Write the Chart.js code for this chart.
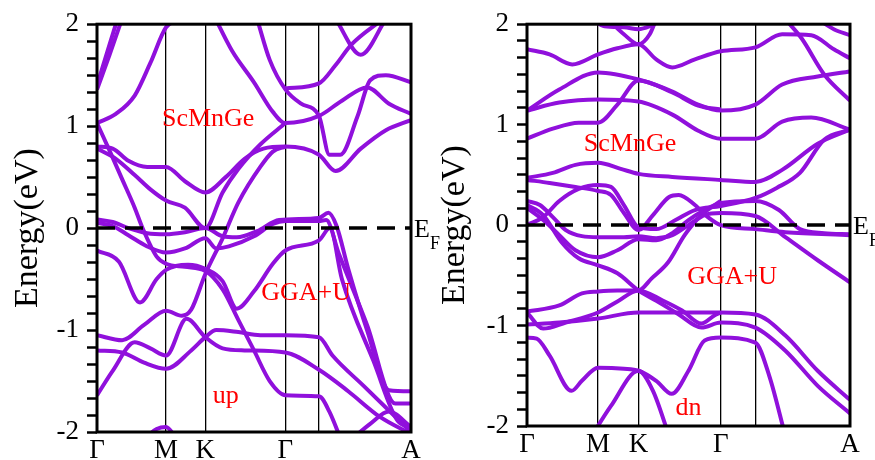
<!DOCTYPE html>
<html>
<head>
<meta charset="utf-8">
<title>ScMnGe GGA+U band structure</title>
<script src="https://cdn.jsdelivr.net/npm/chart.js@4.4.0/dist/chart.umd.min.js"></script>
<style>
    html, body { margin: 0; padding: 0; background: #fff; }
    #wrap { position: relative; width: 875px; height: 460px; overflow: hidden; }
    canvas { position: absolute; top: 0; }
    #grafikUp { left: 0; }
    #grafikDn { left: 435px; }
</style>
</head>
<body>
<div id="wrap">
    <canvas id="grafikUp" width="440" height="460"></canvas>
    <canvas id="grafikDn" width="440" height="460"></canvas>
</div>
<script>
// =================================================================
// DATA: k-path, ticks and bands (k along path 0..1, energy in eV)
// =================================================================
const kTicks  = [0, 0.22, 0.345, 0.6, 0.707, 1];
const kLabels = ['Γ', 'M', 'K', 'Γ', '', 'A'];
const yMajor  = [-2, -1, 0, 1, 2];
const yMinorPerUnit = 6;

// spin up
const upBands = [
    [[0,1.36],[0.04,1.7],[0.085,2.1]],
    [[0,1.4],[0.035,1.75],[0.07,2.1]],
    [[0,1.03],[0.06,1.12],[0.12,1.3],[0.17,1.62],[0.22,1.97],[0.27,2.05]],
    [[0.37,2.1],[0.43,1.74],[0.5,1.43],[0.56,1.14],[0.6,1.03],[0.707,1.1],[0.78,1.25],[0.86,1.38],[0.93,1.22],[1,1.12]],
    [[0.51,2.05],[0.55,1.65],[0.6,1.36],[0.65,1.22],[0.707,1.1],[0.74,0.72],[0.775,0.72],[0.83,1.1],[0.87,1.45],[0.92,1.5],[1,1.43]],
    [[0.6,1.37],[0.707,1.42],[0.76,1.6],[0.81,1.8],[0.91,2.05]],
    [[0.76,2.05],[0.84,1.7],[0.92,2.05]],
    [[0,0.8],[0.05,0.78],[0.1,0.66],[0.16,0.6],[0.22,0.6],[0.28,0.46],[0.345,0.35],[0.41,0.5],[0.47,0.68],[0.53,0.78],[0.6,0.8],[0.707,0.72],[0.76,0.56],[0.84,0.78],[0.92,0.96],[1,1.06]],
    [[0,0.78],[0.06,0.68],[0.12,0.52],[0.17,0.38],[0.22,0.27],[0.28,0.2],[0.345,0.0],[0.4,0.35],[0.45,0.58],[0.52,0.82],[0.6,1.03]],
    [[0,1.03],[0.04,0.76],[0.08,0.48],[0.12,0.2],[0.145,0.0],[0.19,-0.28],[0.22,-0.35],[0.28,-0.38],[0.345,-0.42],[0.4,-0.6],[0.45,-0.9],[0.5,-1.2],[0.55,-1.5],[0.6,-1.64],[0.707,-1.65],[0.74,-1.8],[0.78,-2.1]],
    [[0,0.085],[0.05,0.06],[0.1,0.0],[0.16,-0.05],[0.22,-0.06],[0.28,-0.04],[0.345,0.0],[0.4,-0.08],[0.445,-0.09],[0.51,-0.03],[0.58,0.08],[0.707,0.1],[0.737,0.15],[0.763,0.02],[0.8,-0.4],[0.86,-1.0],[0.93,-1.59],[1,-1.6]],
    [[0,0.05],[0.05,0.02],[0.1,-0.07],[0.16,-0.18],[0.22,-0.24],[0.28,-0.2],[0.345,-0.1],[0.38,-0.2],[0.42,-0.18],[0.5,-0.08],[0.56,0.04],[0.6,0.07],[0.707,0.07],[0.73,0.08],[0.77,-0.25],[0.86,-0.95],[0.95,-1.72],[1,-1.72]],
    [[0,-0.22],[0.07,-0.33],[0.137,-0.73],[0.19,-0.5],[0.22,-0.41],[0.29,-0.36],[0.345,-0.4],[0.4,-0.52],[0.445,-0.79],[0.5,-0.62],[0.56,-0.35],[0.6,-0.22],[0.707,-0.12],[0.742,0.0],[0.78,-0.5],[0.88,-1.3],[0.96,-1.9],[1,-1.95]],
    [[0,-1.05],[0.08,-1.1],[0.15,-0.95],[0.22,-0.81],[0.27,-0.86],[0.3,-0.8],[0.345,-0.45],[0.4,-0.1],[0.45,0.25],[0.52,0.6],[0.56,0.75],[0.6,0.8]],
    [[0,-1.2],[0.08,-1.22],[0.15,-1.32],[0.22,-1.38],[0.3,-1.2],[0.345,-1.07],[0.38,-1.0],[0.45,-1.02],[0.52,-1.05],[0.6,-1.05],[0.707,-1.07],[0.75,-1.25],[0.85,-1.55],[0.95,-1.85],[1,-2.0]],
    [[0,-1.64],[0.05,-1.4],[0.12,-1.12],[0.17,-1.18],[0.22,-1.25],[0.285,-0.89],[0.345,-1.07],[0.4,-1.18],[0.47,-1.2],[0.6,-1.22],[0.707,-1.39],[0.8,-1.6],[0.9,-1.85],[1,-2.02]],
    [[0.14,-2.1],[0.19,-1.97],[0.22,-1.95],[0.25,-2.05]],
    [[0.8,-2.1],[0.87,-1.92],[0.93,-1.8],[1,-1.95]]
];

// spin down
const dnBands = [
    [[0,1.75],[0.07,1.7],[0.14,1.6],[0.22,1.7],[0.28,1.76],[0.345,1.8],[0.4,1.65],[0.45,1.57],[0.52,1.65],[0.6,1.73],[0.707,1.77],[0.79,1.9],[0.88,1.89],[0.95,1.75],[1,1.66]],
    [[0.2,2.05],[0.24,1.98],[0.3,1.97],[0.345,1.95],[0.38,1.98],[0.42,2.05]],
    [[0.25,2.05],[0.3,1.9],[0.345,1.8],[0.38,1.9],[0.4,2.05]],
    [[0.9,2.05],[0.95,1.95],[1,1.89]],
    [[0,1.14],[0.1,1.35],[0.22,1.52],[0.345,1.45],[0.45,1.33],[0.53,1.2],[0.6,1.14],[0.707,1.2],[0.79,1.4],[0.9,1.48],[1,1.53]],
    [[0,1.14],[0.1,1.22],[0.22,1.25],[0.345,1.23],[0.45,1.1],[0.53,0.94],[0.6,0.86],[0.707,0.86],[0.79,1.03],[0.88,1.07],[1,0.95]],
    [[0,0.86],[0.08,0.96],[0.16,1.02],[0.22,1.02],[0.28,1.2],[0.345,1.44],[0.45,1.32],[0.53,1.19],[0.6,1.15]],
    [[0.8,2.05],[0.85,1.86],[0.92,1.5],[1,1.24]],
    [[0,0.47],[0.08,0.52],[0.15,0.6],[0.22,0.62],[0.29,0.56],[0.345,0.51],[0.45,0.48],[0.6,0.45],[0.707,0.43],[0.79,0.55],[0.9,0.81],[1,0.95]],
    [[0,0.45],[0.07,0.42],[0.15,0.38],[0.22,0.34],[0.26,0.3],[0.3,0.12],[0.345,-0.05],[0.39,0.1],[0.44,0.28],[0.47,0.3],[0.52,0.2],[0.56,0.08],[0.6,0.0],[0.707,-0.04],[0.8,-0.07],[1,-0.1]],
    [[0,0.0],[0.05,0.08],[0.1,0.24],[0.16,0.36],[0.22,0.4],[0.26,0.38],[0.3,0.2],[0.345,-0.02],[0.4,-0.04],[0.46,0.05],[0.52,0.15],[0.6,0.19],[0.707,0.27],[0.773,0.37],[0.845,0.52],[0.92,0.85],[1,0.95]],
    [[0,0.24],[0.04,0.2],[0.08,0.08],[0.12,-0.05],[0.17,-0.11],[0.22,-0.12],[0.3,-0.12],[0.345,-0.11],[0.4,-0.13],[0.45,-0.1],[0.5,0.0],[0.55,0.1],[0.6,0.12],[0.707,0.09],[0.8,-0.12],[0.9,-0.35],[1,-0.57]],
    [[0,0.17],[0.05,0.05],[0.1,-0.1],[0.15,-0.25],[0.22,-0.32],[0.28,-0.25],[0.345,-0.14],[0.4,-0.15],[0.45,-0.08],[0.5,0.05],[0.55,0.15],[0.6,0.22],[0.707,0.24],[0.78,0.15],[0.845,-0.04],[0.92,-0.08],[1,-0.09]],
    [[0,0.2],[0.05,0.1],[0.107,-0.17],[0.16,-0.33],[0.22,-0.4],[0.28,-0.48],[0.345,-0.65],[0.42,-0.79],[0.47,-0.89],[0.54,-1.02],[0.6,-0.97],[0.707,-1.02],[0.8,-1.25],[0.9,-1.6],[1,-1.875]],
    [[0,-0.86],[0.1,-0.8],[0.17,-0.68],[0.22,-0.66],[0.28,-0.65],[0.345,-0.65],[0.386,-0.53],[0.437,-0.37],[0.488,-0.1],[0.54,0.1],[0.6,0.24]],
    [[0,-0.87],[0.05,-1.03],[0.12,-0.97],[0.22,-0.87],[0.28,-0.76],[0.345,-0.65],[0.42,-0.75],[0.48,-0.85],[0.54,-0.98],[0.58,-0.9],[0.6,-0.87]],
    [[0,-0.99],[0.1,-0.97],[0.22,-0.93],[0.345,-0.87],[0.45,-0.87],[0.6,-0.87],[0.707,-0.89],[0.8,-1.1],[0.9,-1.45],[1,-1.74]],
    [[0,-1.12],[0.03,-1.13],[0.07,-1.3],[0.138,-1.65],[0.17,-1.55],[0.22,-1.42],[0.3,-1.43],[0.345,-1.45],[0.4,-1.55],[0.448,-1.68],[0.5,-1.45],[0.55,-1.15],[0.6,-1.12],[0.707,-1.17],[0.75,-1.5],[0.8,-2.1]],
    [[0.2,-2.1],[0.26,-1.8],[0.345,-1.45],[0.39,-1.65],[0.44,-2.1]]
];

// red notes inside each panel (text + where it sits in k/E)
const upNotes = [
    { text: 'ScMnGe', k: 0.354, e: 1.07 },
    { text: 'GGA+U',  k: 0.666, e: -0.64 },
    { text: 'up',     k: 0.41,  e: -1.65 }
];
const dnNotes = [
    { text: 'ScMnGe', k: 0.319, e: 0.81 },
    { text: 'GGA+U',  k: 0.635, e: -0.52 },
    { text: 'dn',     k: 0.50,  e: -1.82 }
];

// =================================================================
// STYLE
// =================================================================
const warnaPita = '#9010dc';
const hurufSerif = '"Liberation Serif", "DejaVu Serif", serif';

// tick positions for the y axis (labels only on whole numbers)
const yTickVals = [];
for (let i = yMajor[0] * yMinorPerUnit; i <= yMajor[yMajor.length - 1] * yMinorPerUnit; i++) {
    yTickVals.push(i / yMinorPerUnit);
}

// frame, dashed Fermi line, E_F label and red notes
const bingkaiPlugin = {
    id: 'bingkai',
    afterDatasetsDraw(chart, args, opts) {
        const { ctx, chartArea: a, scales: { x, y } } = chart;
        const y0 = y.getPixelForValue(0);
        ctx.save();

        ctx.strokeStyle = '#000';
        ctx.lineWidth = 3.5;
        ctx.setLineDash([18, 10]);
        ctx.beginPath();
        ctx.moveTo(a.left, y0);
        ctx.lineTo(a.right, y0);
        ctx.stroke();
        ctx.setLineDash([]);

        ctx.lineWidth = 3;
        ctx.strokeRect(a.left, a.top, a.right - a.left, a.bottom - a.top);

        ctx.fillStyle = '#000';
        ctx.textAlign = 'left';
        ctx.textBaseline = 'alphabetic';
        ctx.font = '26px ' + hurufSerif;
        ctx.fillText('E', a.right + 3, y0 + 9);
        ctx.font = '18px ' + hurufSerif;
        ctx.fillText('F', a.right + 19, y0 + 21);

        ctx.fillStyle = '#ff0000';
        ctx.textAlign = 'center';
        ctx.textBaseline = 'middle';
        ctx.font = '26px ' + hurufSerif;
        opts.notes.forEach(n => {
            ctx.fillText(n.text, x.getPixelForValue(n.k), y.getPixelForValue(n.e));
        });
        ctx.restore();
    }
};

function buatPanel(id, bands, notes, pad, axisW, axisH, titlePad) {
    const datasets = bands.map(b => ({
        data: b.map(p => ({ x: p[0], y: p[1] })),
        borderColor: warnaPita,
        borderWidth: 4,
        pointRadius: 0,
        fill: false,
        cubicInterpolationMode: 'monotone',
        clip: 0
    }));

    new Chart(document.getElementById(id), {
        type: 'line',
        data: { datasets },
        options: {
            responsive: false,
            animation: false,
            devicePixelRatio: 1,
            layout: { padding: pad },
            plugins: {
                legend: { display: false },
                tooltip: { enabled: false },
                bingkai: { notes }
            },
            scales: {
                x: {
                    type: 'linear',
                    min: 0,
                    max: 1,
                    afterBuildTicks: s => { s.ticks = kTicks.map(v => ({ value: v })); },
                    afterFit: s => { s.height = axisH; },
                    ticks: {
                        autoSkip: false,
                        maxRotation: 0,
                        padding: 3,
                        color: '#000',
                        font: { family: hurufSerif, size: 27 },
                        callback: (v, i) => kLabels[i]
                    },
                    grid: {
                        drawTicks: false,
                        lineWidth: 1.3,
                        color: c => (c.index > 0 && c.index < kTicks.length - 1) ? '#000' : 'rgba(0,0,0,0)'
                    },
                    border: { display: false }
                },
                y: {
                    type: 'linear',
                    min: -2,
                    max: 2,
                    afterBuildTicks: s => { s.ticks = yTickVals.map(v => ({ value: v })); },
                    afterFit: s => { s.width = axisW; },
                    ticks: {
                        autoSkip: false,
                        padding: 8,
                        color: '#000',
                        font: { family: hurufSerif, size: 27 },
                        callback: v => Math.abs(v - Math.round(v)) < 1e-6 ? String(Math.round(v)) : ''
                    },
                    grid: {
                        drawOnChartArea: false,
                        drawTicks: true,
                        tickLength: 10,
                        tickWidth: 2.5,
                        tickColor: '#000'
                    },
                    border: { display: false },
                    title: {
                        display: true,
                        text: 'Energy(eV)',
                        color: '#000',
                        font: { family: hurufSerif, size: 34 },
                        padding: { top: titlePad, bottom: 0 }
                    }
                }
            }
        },
        plugins: [bingkaiPlugin]
    });
}

document.addEventListener('DOMContentLoaded', function () {
    buatPanel('grafikUp', upBands, upNotes, { top: 22, right: 29, left: 0, bottom: 0 }, 97, 28, 8);
    buatPanel('grafikDn', dnBands, dnNotes, { top: 19, right: 25, left: 0, bottom: 0 }, 92, 34, 0);
});
</script>
</body>
</html>
